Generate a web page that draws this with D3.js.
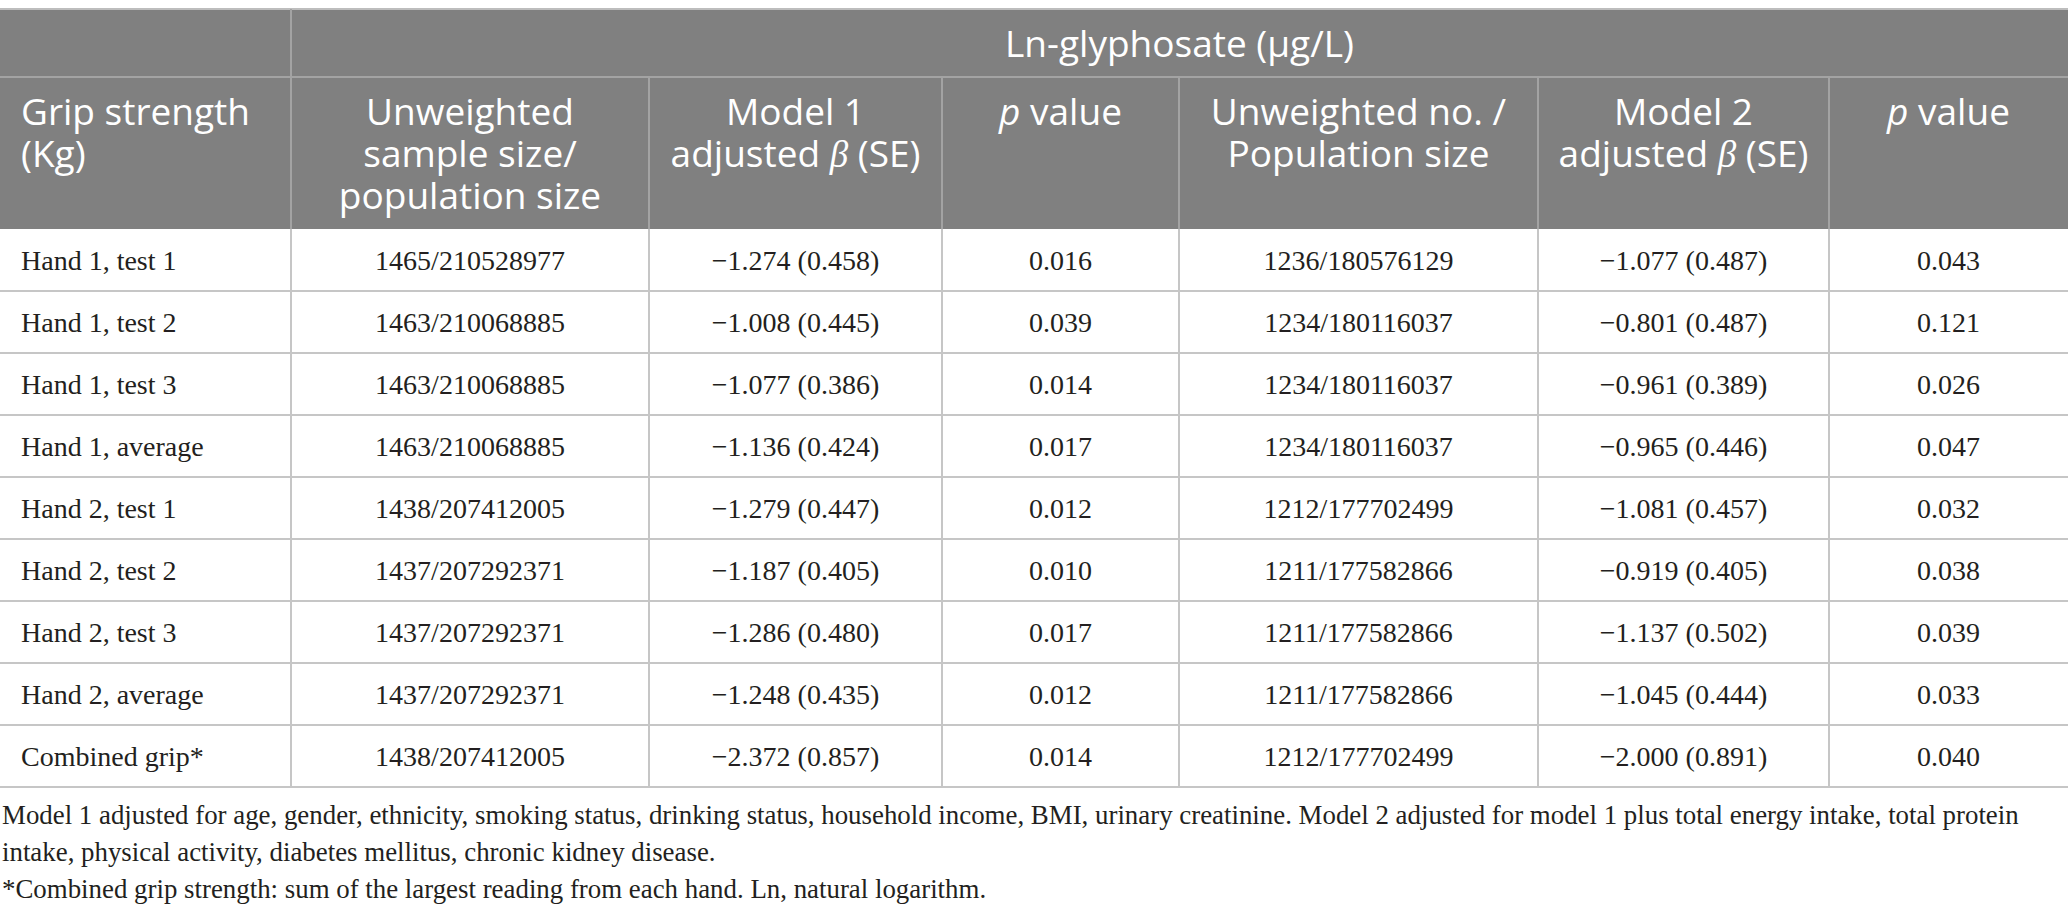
<!DOCTYPE html>
<html>
<head>
<meta charset="utf-8">
<script src="https://cdn.jsdelivr.net/npm/d3@7"></script>
<style>
  body { margin: 0; background: #fff; }
  .hd { font-family: "Open Sans", "Noto Sans", sans-serif; fill: #fff; }
  .bd { font-family: "Liberation Serif", serif; fill: #231f20; }
</style>
</head>
<body>
<div id="chart"></div>
<script>
/* Ln-glyphosate vs grip strength table, drawn as svg */

var rowLabels = ["Hand 1, test 1", "Hand 1, test 2", "Hand 1, test 3", "Hand 1, average",
    "Hand 2, test 1", "Hand 2, test 2", "Hand 2, test 3", "Hand 2, average", "Combined grip*"];
var sizes1 = ["1465/210528977", "1463/210068885", "1463/210068885", "1463/210068885",
    "1438/207412005", "1437/207292371", "1437/207292371", "1437/207292371", "1438/207412005"];
var beta1 = [-1.274, -1.008, -1.077, -1.136, -1.279, -1.187, -1.286, -1.248, -2.372];
var se1 = [0.458, 0.445, 0.386, 0.424, 0.447, 0.405, 0.480, 0.435, 0.857];
var p1 = [0.016, 0.039, 0.014, 0.017, 0.012, 0.010, 0.017, 0.012, 0.014];
var sizes2 = ["1236/180576129", "1234/180116037", "1234/180116037", "1234/180116037",
    "1212/177702499", "1211/177582866", "1211/177582866", "1211/177582866", "1212/177702499"];
var beta2 = [-1.077, -0.801, -0.961, -0.965, -1.081, -0.919, -1.137, -1.045, -2.000];
var se2 = [0.487, 0.487, 0.389, 0.446, 0.457, 0.405, 0.502, 0.444, 0.891];
var p2 = [0.043, 0.121, 0.026, 0.047, 0.032, 0.038, 0.039, 0.033, 0.040];

var spanHeader = "Ln-glyphosate (\u03bcg/L)";
/* header lines; "*" marks an italic piece */
var colHeaders = [
    [["Grip strength"], ["(Kg)"]],
    [["Unweighted"], ["sample size/"], ["population size"]],
    [["Model 1"], ["adjusted ", "*\u03b2", " (SE)"]],
    [["*p", " value"]],
    [["Unweighted no. /"], ["Population size"]],
    [["Model 2"], ["adjusted ", "*\u03b2", " (SE)"]],
    [["*p", " value"]]
];
var footnotes = [
    "Model 1 adjusted for age, gender, ethnicity, smoking status, drinking status, household income, BMI, urinary creatinine. Model 2 adjusted for model 1 plus total energy intake, total protein",
    "intake, physical activity, diabetes mellitus, chronic kidney disease.",
    "*Combined grip strength: sum of the largest reading from each hand. Ln, natural logarithm."
];

var width = 2068, height = 921;
var colEdges = [0, 291, 649, 942, 1179, 1538, 1829, 2068];
var top0 = 9, head1 = 77, head2 = 229, bodyBottom = 787;
var headFill = "#808080", headLine = "#a3a3a3", gridLine = "#c6c6c6";
var headSize = 37, bodySize = 28;

var fmt = d3.format(".3f");
function minus(v) { return fmt(v).replace("-", "\u2212"); }

var rows = rowLabels.map(function(d, i) {
    return [d, sizes1[i], minus(beta1[i]) + " (" + fmt(se1[i]) + ")", fmt(p1[i]),
            sizes2[i], minus(beta2[i]) + " (" + fmt(se2[i]) + ")", fmt(p2[i])];
});

var y = d3.scaleBand()
    .domain(rowLabels)
    .range([head2, bodyBottom]);

var colIdx = d3.range(colEdges.length - 1);
var x0 = d3.scaleOrdinal().domain(colIdx).range(colEdges.slice(0, -1));
var x1 = d3.scaleOrdinal().domain(colIdx).range(colEdges.slice(1));
function xMid(i) { return (x0(i) + x1(i)) / 2; }

var svg = d3.select("#chart").append("svg")
    .attr("width", width)
    .attr("height", height);

/* header background */
svg.append("rect")
    .attr("x", 0).attr("y", top0)
    .attr("width", width).attr("height", head2 - top0)
    .attr("fill", headFill);

/* header lines */
svg.append("line")
    .attr("x1", 0).attr("x2", width).attr("y1", top0).attr("y2", top0)
    .attr("stroke", "#bdbdbd").attr("stroke-width", 2);
svg.append("line")
    .attr("x1", 0).attr("x2", width).attr("y1", head1).attr("y2", head1)
    .attr("stroke", headLine).attr("stroke-width", 2);
svg.append("line")
    .attr("x1", x1(0)).attr("x2", x1(0)).attr("y1", top0).attr("y2", head1)
    .attr("stroke", headLine).attr("stroke-width", 2);
svg.selectAll("line.hv")
    .data(colIdx.slice(0, -1))
  .enter().append("line")
    .attr("class", "hv")
    .attr("x1", function(i) { return x1(i); })
    .attr("x2", function(i) { return x1(i); })
    .attr("y1", head1).attr("y2", head2)
    .attr("stroke", headLine).attr("stroke-width", 2);

/* spanning header */
svg.append("text")
    .attr("class", "hd")
    .attr("x", (x0(1) + width) / 2)
    .attr("y", 57)
    .attr("text-anchor", "middle")
    .attr("font-size", headSize)
    .text(spanHeader);

/* column headers, one text per line */
colHeaders.forEach(function(lines, c) {
    lines.forEach(function(parts, k) {
        var t = svg.append("text")
            .attr("class", "hd")
            .attr("font-size", headSize)
            .attr("text-anchor", c === 0 ? "start" : "middle")
            .attr("x", c === 0 ? 21 : xMid(c))
            .attr("y", 125 + k * 42);
        parts.forEach(function(p) {
            var it = p.charAt(0) === "*";
            t.append("tspan")
                .attr("font-style", it ? "italic" : null)
                .attr("font-family", it && p !== "*p" ? "Liberation Serif, serif" : null)
                .text(it ? p.slice(1) : p);
        });
    });
});

/* body grid */
svg.selectAll("line.hr")
    .data(rowLabels)
  .enter().append("line")
    .attr("class", "hr")
    .attr("x1", 0).attr("x2", width)
    .attr("y1", function(d) { return y(d) + y.bandwidth(); })
    .attr("y2", function(d) { return y(d) + y.bandwidth(); })
    .attr("stroke", gridLine).attr("stroke-width", 2);
svg.selectAll("line.vr")
    .data(colIdx.slice(0, -1))
  .enter().append("line")
    .attr("class", "vr")
    .attr("x1", function(i) { return x1(i); })
    .attr("x2", function(i) { return x1(i); })
    .attr("y1", head2).attr("y2", bodyBottom)
    .attr("stroke", gridLine).attr("stroke-width", 2);

/* body cells */
var row = svg.selectAll("g.row")
    .data(rows)
  .enter().append("g")
    .attr("class", "row")
    .attr("transform", function(d, i) { return "translate(0," + (y(rowLabels[i]) + y.bandwidth() / 2) + ")"; });

row.selectAll("text")
    .data(function(d) { return d; })
  .enter().append("text")
    .attr("class", "bd")
    .attr("font-size", bodySize)
    .attr("x", function(d, i) { return i === 0 ? 21 : xMid(i); })
    .attr("y", 10)
    .attr("text-anchor", function(d, i) { return i === 0 ? "start" : "middle"; })
    .text(function(d) { return d; });

/* footnotes; size chosen so the long first line spans like the source */
var fn = svg.selectAll("text.fn")
    .data(footnotes)
  .enter().append("text")
    .attr("class", "bd fn")
    .attr("font-size", 24)
    .attr("x", 2)
    .attr("y", function(d, i) { return 824 + i * 37; })
    .text(function(d) { return d; });

var firstLen = fn.node().getComputedTextLength();
var fnSize = Math.min(28, Math.max(22, 24 * 2018 / firstLen));
fn.attr("font-size", fnSize);
</script>
</body>
</html>
